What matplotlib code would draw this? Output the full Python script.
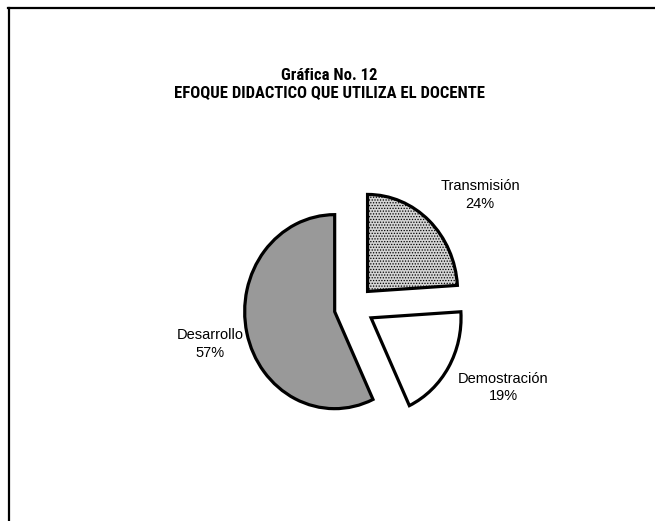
import matplotlib
matplotlib.use("Agg")
import matplotlib.pyplot as plt
from matplotlib import font_manager
from matplotlib.lines import Line2D

categories = ["Transmisión", "Demostración", "Desarrollo"]
values = [24, 19, 57]
pct_labels = ["24%", "19%", "57%"]

colors = ["#d4d4d4", "#ffffff", "#999999"]
hatches = ["......", None, None]

# label anchor positions in data units of the pie axes
label_pos = [(1.40, 1.155), (1.66, -0.83), (-1.60, -0.385)]

avail = {f.name for f in font_manager.fontManager.ttflist}
narrow = None
for cand in ["Liberation Sans Narrow", "Arial Narrow", "Roboto Condensed", "Open Sans Condensed"]:
    if cand in avail:
        narrow = cand
        break
title_family = [narrow, "DejaVu Sans"] if narrow else ["Liberation Sans", "DejaVu Sans"]
title_size = 12 if narrow else 10

plt.rcParams["font.family"] = ["Liberation Sans", "DejaVu Sans"]
plt.rcParams["hatch.color"] = "#7a7a7a"
plt.rcParams["hatch.linewidth"] = 0.6

W, H = 655, 521
fig = plt.figure(figsize=(W / 100, H / 100), dpi=100)
fig.patch.set_facecolor("white")

# frame lines
fig.add_artist(Line2D([8 / W, 1.0], [1 - 7.5 / H, 1 - 7.5 / H], transform=fig.transFigure,
                      color="black", lw=1.6))
fig.add_artist(Line2D([8.5 / W, 8.5 / W], [0, 1 - 7.5 / H], transform=fig.transFigure,
                      color="black", lw=1.6))

# title
fig.text(329 / W, 1 - 75 / H, "Gráfica No. 12", ha="center", va="center",
         fontsize=title_size, fontweight="bold", family=title_family)
fig.text(329 / W, 1 - 94 / H, "EFOQUE DIDACTICO QUE UTILIZA EL DOCENTE", ha="center",
         va="center", fontsize=title_size, fontweight="bold", family=title_family)

# pie axes: center (354, 307) px, rx=90, ry=97
cx, cy, rx, ry = 354, 307, 90, 97
span = 1.8
ax = fig.add_axes([(cx - span * rx) / W, (H - cy - span * ry) / H,
                   2 * span * rx / W, 2 * span * ry / H])
wedges, _ = ax.pie(values, startangle=90, counterclock=False, colors=colors,
                   explode=[0.22, 0.22, 0.22],
                   wedgeprops=dict(edgecolor="black", linewidth=2.3))
for w, h in zip(wedges, hatches):
    if h:
        w.set_hatch(h)
ax.set_aspect("auto")
ax.set_xlim(-span, span)
ax.set_ylim(-span, span)
ax.axis("off")

for cat, pct, (lx, ly) in zip(categories, pct_labels, label_pos):
    ax.text(lx, ly, f"{cat}\n{pct}", ha="center", va="center", fontsize=10.5,
            linespacing=1.35)

fig.savefig("out.png", dpi=100)
